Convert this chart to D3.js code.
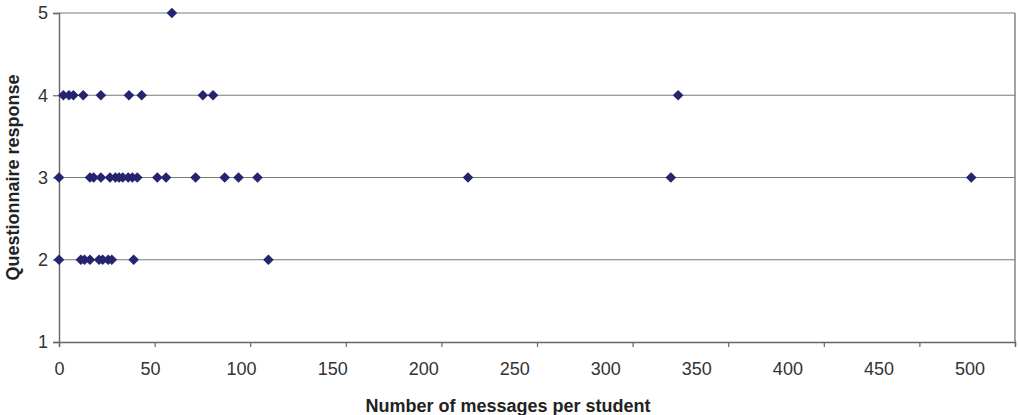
<!DOCTYPE html>
<html>
<head>
<meta charset="utf-8">
<script src="https://cdn.jsdelivr.net/npm/d3@7"></script>
<style>
  body { margin: 0; background: #fff; }
  svg { display: block; font-family: "Liberation Sans", Arial, sans-serif; }
</style>
</head>
<body>
<div id="chart"></div>
<script>
// responses per row of the chart, x = messages per student
var resp5 = [62];
var resp4 = [2.4, 5.5, 7.9, 13.3, 23, 38.4, 45.4, 79, 84.6, 340];
var resp3 = [0, 17, 19, 23, 28, 31, 33, 35, 38, 40.3, 43, 54, 58.8, 75, 91, 98.6, 109, 224.6, 336, 501];
var resp2 = [0, 12, 14, 17, 22, 24, 27, 29, 41, 115];
var xLabels = [0, 50, 100, 150, 200, 250, 300, 350, 400, 450, 500];
var yTicks = [1, 2, 3, 4, 5];

var points = [];
[[5, resp5], [4, resp4], [3, resp3], [2, resp2]].forEach(function(r) {
  r[1].forEach(function(v) { points.push({x: v, y: r[0]}); });
});

var W = 1018, H = 415;
var margin = {top: 13, right: 3, bottom: 73, left: 59},
    width = W - margin.left - margin.right,
    height = H - margin.top - margin.bottom;

var x = d3.scaleLinear().domain([0, 525]).range([0, width]);
var y = d3.scaleLinear().domain([1, 5]).range([height, 0]);

var svg = d3.select("#chart").append("svg")
    .attr("width", W)
    .attr("height", H)
  .append("g")
    .attr("transform", "translate(" + margin.left + "," + margin.top + ")");

// grid lines
svg.append("g").selectAll("line")
    .data(yTicks.slice(1))
  .enter().append("line")
    .attr("x1", 0).attr("x2", width)
    .attr("y1", function(d) { return y(d); })
    .attr("y2", function(d) { return y(d); })
    .attr("stroke", "#7a7a7a")
    .attr("stroke-width", 1.2);

// right border
svg.append("line")
    .attr("x1", width).attr("x2", width)
    .attr("y1", 0).attr("y2", height)
    .attr("stroke", "#666").attr("stroke-width", 1.2);

// x tick marks (every 52.5 as in the original), labels placed separately
var xMarks = d3.range(0, 525.1, 52.5);
svg.append("g")
    .attr("transform", "translate(0," + height + ")")
    .call(d3.axisBottom(x).tickValues(xMarks).tickSize(5).tickFormat(""));

svg.append("g")
    .attr("transform", "translate(0," + height + ")")
    .call(d3.axisBottom(x).tickValues(xLabels).tickSize(0).tickPadding(20))
    .call(function(g) { g.select(".domain").remove(); });

svg.append("g")
    .call(d3.axisLeft(y).tickValues(yTicks).tickSize(6).tickPadding(5).tickFormat(d3.format("d")));

svg.selectAll(".domain").attr("stroke", "#666").attr("stroke-width", 1.4);
svg.selectAll(".tick line").attr("stroke", "#666").attr("stroke-width", 1.2);
svg.selectAll(".tick text")
    .attr("fill", "#333")
    .style("font-size", "18px");

// markers
svg.append("g").selectAll("path")
    .data(points)
  .enter().append("path")
    .attr("d", d3.symbol().type(d3.symbolDiamond2).size(72))
    .attr("transform", function(d) { return "translate(" + x(d.x) + "," + y(d.y) + ")"; })
    .attr("fill", "#25256f");

// axis titles
svg.append("text")
    .attr("x", width / 2 - 29)
    .attr("y", height + 70)
    .attr("text-anchor", "middle")
    .style("font-size", "18px")
    .style("font-weight", "bold")
    .attr("fill", "#222")
    .text("Number of messages per student");

svg.append("text")
    .attr("transform", "translate(" + (-40) + "," + (height / 2) + ") rotate(-90)")
    .attr("text-anchor", "middle")
    .style("font-size", "18px")
    .style("font-weight", "bold")
    .attr("fill", "#222")
    .text("Questionnaire response");
</script>
</body>
</html>
